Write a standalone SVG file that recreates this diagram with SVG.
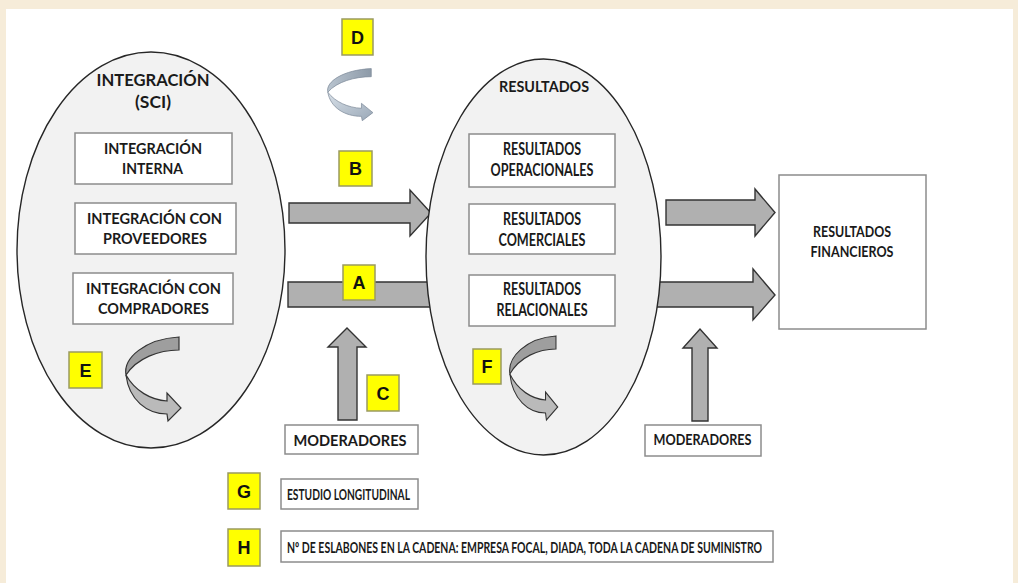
<svg xmlns="http://www.w3.org/2000/svg" xmlns:xlink="http://www.w3.org/1999/xlink" width="1018" height="583" viewBox="0 0 1018 583">
<defs>
<style>
text{font-family:Lato,"Liberation Sans",Arial,sans-serif;font-weight:bold;fill:#1a1a1a;}
.t{text-anchor:middle;}
.s145{font-size:15px;}
.s15{font-size:15.5px;}
.s155{font-size:15.5px;}
.s165{font-size:16.5px;}
.title{font-size:17px;text-anchor:middle;}
.lt{font-family:"Liberation Sans",Arial,sans-serif;font-size:18px;text-anchor:middle;fill:#111;}
.ell{fill:#f2f2f2;stroke:#262626;stroke-width:1.4;}
.box{fill:#fff;stroke:#8c8c8c;stroke-width:1.5;}
.yel{fill:#ffff00;stroke:#9a9a60;stroke-width:1.5;}
.arr{fill:#b0b0b0;stroke:#333;stroke-width:1.4;stroke-linejoin:miter;}
.back{fill:#9e9e9e;stroke:#333;stroke-width:1.2;}
.front{fill:#bababa;stroke:#333;stroke-width:1.2;}
.dback{fill:url(#dg2);stroke:#7d8a99;stroke-width:1;}
.dfront{fill:url(#dg);stroke:#7d8a99;stroke-width:1;}
</style>
<linearGradient id="dg" x1="0" y1="0" x2="1" y2="1">
<stop offset="0" stop-color="#d8e0e8"/>
<stop offset="1" stop-color="#9aa8b7"/>
</linearGradient>
<linearGradient id="dg2" x1="0" y1="0" x2="1" y2="0">
<stop offset="0" stop-color="#b9c4cf"/>
<stop offset="1" stop-color="#8d9aa8"/>
</linearGradient>
<g id="curl">
<path class="back" d="M54,1 L54,14 C34,14 12,22 1,39 C-2,22 20,3 54,1 Z"/>
<path class="front" d="M1,39 C10,55 26,64 42,65 L42,57 L56,72 L43,85 L42,78 C22,78 4,64 1,39 Z"/>
</g>
</defs>
<rect x="0" y="0" width="1018" height="583" fill="#f6ecd9"/>
<rect x="6" y="9" width="1007" height="574" fill="#ffffff"/>

<g id="connectors">
<polygon id="arrow-B" class="arr" points="289,203 410,203 410,190 431,213 410,236 410,223 289,223"/>
<polygon id="arrow-A" class="arr" points="288,282 753,282 753,269 775,295 753,320 753,307 288,307"/>
<polygon id="arrow-top-right" class="arr" points="666,200 755,200 755,189 775,212.5 755,236 755,225 666,225"/>
<polygon id="arrow-C" class="arr" points="338,420 338,347 328,347 347,328 366,347 357,347 357,420"/>
<polygon id="arrow-mod-right" class="arr" points="692,421 692,348 683,348 700,329 717,348 708,348 708,421"/>
</g>

<g id="integracion">
<ellipse class="ell" cx="151" cy="250" rx="134" ry="198"/>
<text class="title" x="153" y="86" textLength="113" lengthAdjust="spacingAndGlyphs">INTEGRACIÓN</text>
<text class="title" x="153" y="108" textLength="36" lengthAdjust="spacingAndGlyphs">(SCI)</text>
</g>
<g id="int-interna">
<rect class="box" x="75" y="133" width="157" height="51"/>
<text class="t s155" x="153" y="154" textLength="98" lengthAdjust="spacingAndGlyphs">INTEGRACIÓN</text>
<text class="t s155" x="152.5" y="174" textLength="61" lengthAdjust="spacingAndGlyphs">INTERNA</text>
</g>
<g id="int-proveedores">
<rect class="box" x="75" y="203" width="161" height="51"/>
<text class="t s155" x="154.5" y="224" textLength="135" lengthAdjust="spacingAndGlyphs">INTEGRACIÓN CON</text>
<text class="t s155" x="155" y="244" textLength="104" lengthAdjust="spacingAndGlyphs">PROVEEDORES</text>
</g>
<g id="int-compradores">
<rect class="box" x="73" y="273" width="160" height="51"/>
<text class="t s155" x="153.5" y="294" textLength="135" lengthAdjust="spacingAndGlyphs">INTEGRACIÓN CON</text>
<text class="t s155" x="153.5" y="314" textLength="111" lengthAdjust="spacingAndGlyphs">COMPRADORES</text>
</g>

<g id="resultados">
<ellipse class="ell" cx="543.5" cy="257" rx="117.5" ry="198"/>
<text class="t s155" x="544" y="92" textLength="90" lengthAdjust="spacingAndGlyphs">RESULTADOS</text>
</g>
<g id="res-operacionales">
<rect class="box" x="469" y="134" width="146" height="53"/>
<text class="t s165" x="542" y="155" textLength="78" lengthAdjust="spacingAndGlyphs">RESULTADOS</text>
<text class="t s165" x="542" y="176" textLength="103" lengthAdjust="spacingAndGlyphs">OPERACIONALES</text>
</g>
<g id="res-comerciales">
<rect class="box" x="469" y="204" width="146" height="50"/>
<text class="t s165" x="542" y="225" textLength="78" lengthAdjust="spacingAndGlyphs">RESULTADOS</text>
<text class="t s165" x="542" y="245.5" textLength="87" lengthAdjust="spacingAndGlyphs">COMERCIALES</text>
</g>
<g id="res-relacionales">
<rect class="box" x="469" y="275" width="146" height="51"/>
<text class="t s165" x="542" y="295" textLength="78" lengthAdjust="spacingAndGlyphs">RESULTADOS</text>
<text class="t s165" x="542" y="316" textLength="91" lengthAdjust="spacingAndGlyphs">RELACIONALES</text>
</g>

<g id="res-financieros">
<rect class="box" x="779" y="175" width="147" height="154"/>
<text class="t s155" x="852" y="237" textLength="78" lengthAdjust="spacingAndGlyphs">RESULTADOS</text>
<text class="t s155" x="852" y="257" textLength="83" lengthAdjust="spacingAndGlyphs">FINANCIEROS</text>
</g>

<g id="moderadores-1">
<rect class="box" x="285" y="425" width="133" height="29"/>
<text class="t s15" x="350" y="446" textLength="113" lengthAdjust="spacingAndGlyphs">MODERADORES</text>
</g>
<g id="moderadores-2">
<rect class="box" x="645" y="425" width="116" height="31"/>
<text class="t s145" x="702.5" y="445" textLength="98" lengthAdjust="spacingAndGlyphs">MODERADORES</text>
</g>
<g id="estudio">
<rect class="box" x="281" y="479" width="137" height="30"/>
<text class="s145" x="287" y="500" textLength="123" lengthAdjust="spacingAndGlyphs">ESTUDIO LONGITUDINAL</text>
</g>
<g id="eslabones">
<rect class="box" x="281" y="531" width="492" height="31"/>
<text class="s145" x="287" y="552.5" textLength="475" lengthAdjust="spacingAndGlyphs">Nº DE ESLABONES EN LA CADENA: EMPRESA FOCAL, DIADA, TODA LA CADENA DE SUMINISTRO</text>
</g>

<g id="curl-D" transform="translate(327,68) scale(0.82,0.62)">
<path class="dback" d="M54,1 L54,14 C34,14 12,22 1,39 C-2,22 20,3 54,1 Z"/>
<path class="dfront" d="M1,39 C10,55 26,64 42,65 L42,57 L56,72 L43,85 L42,78 C22,78 4,64 1,39 Z"/>
</g>
<g id="curl-E"><use xlink:href="#curl" transform="translate(125,336)"/></g>
<g id="curl-F"><use xlink:href="#curl" transform="translate(509,335) scale(0.87,1)"/></g>

<g id="label-D"><rect class="yel" x="342" y="19" width="31" height="36"/><text class="lt" x="357.5" y="43.5">D</text></g>
<g id="label-B"><rect class="yel" x="339" y="151" width="33" height="35"/><text class="lt" x="355.5" y="175">B</text></g>
<g id="label-A"><rect class="yel" x="343" y="265" width="32" height="35"/><text class="lt" x="359" y="289">A</text></g>
<g id="label-C"><rect class="yel" x="367" y="375" width="32" height="36"/><text class="lt" x="383" y="399.5">C</text></g>
<g id="label-E"><rect class="yel" x="69" y="352" width="33" height="36"/><text class="lt" x="85.5" y="376.5">E</text></g>
<g id="label-F"><rect class="yel" x="473" y="349" width="28" height="35"/><text class="lt" x="487" y="373">F</text></g>
<g id="label-G"><rect class="yel" x="228" y="473" width="32" height="36"/><text class="lt" x="244" y="497.5">G</text></g>
<g id="label-H"><rect class="yel" x="228" y="529" width="32" height="37"/><text class="lt" x="244" y="554">H</text></g>
</svg>
